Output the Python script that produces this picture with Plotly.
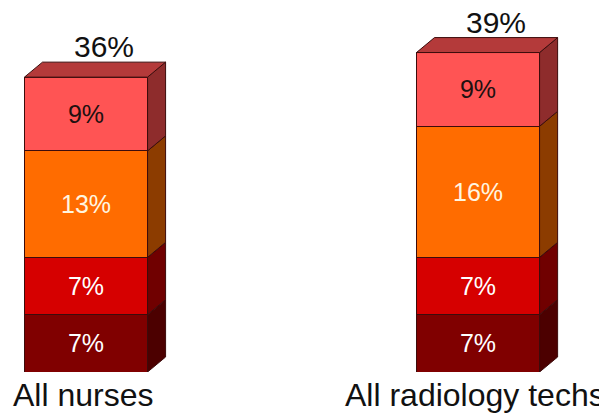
import plotly.graph_objects as go

# ---- data ----
categories = ["All nurses", "All radiology techs"]
seg_dark = [7, 7]      # bottom segment
seg_red = [7, 7]
seg_orange = [13, 16]
seg_salmon = [9, 9]    # top segment
totals = [36, 39]

series = [seg_dark, seg_red, seg_orange, seg_salmon]
names = ["Segment 1", "Segment 2", "Segment 3", "Segment 4"]

# ---- style ----
front_colors = ["#800000", "#d60000", "#ff6c00", "#ff5454"]
side_colors = ["#4c0000", "#700000", "#8c3c00", "#8e2c2c"]
top_color = "#b43a3a"
text_colors = ["#ffffff", "#ffffff", "#fff6e0", "#201010"]
edge = "#3c0c0c"
FONT = "Liberation Sans, Arial, sans-serif"

xpos = [0, 1]
bar_w = 0.314
dx = 0.046      # depth in x (data units)
dy = 1.83       # depth in y (data units)

fig = go.Figure()

# front faces
for s, vals in enumerate(series):
    fig.add_trace(go.Bar(
        x=xpos, y=vals, width=bar_w, name=names[s],
        marker=dict(color=front_colors[s], line=dict(color=edge, width=1)),
        text=[f"{v}%" for v in vals], textposition="inside",
        insidetextanchor="middle", constraintext="none",
        textfont=dict(family=FONT, size=25, color=text_colors[s]),
        hoverinfo="skip", showlegend=False,
    ))

# side faces and top faces (computed from the data)
for i, xc in enumerate(xpos):
    xl = xc - bar_w / 2
    xr = xc + bar_w / 2
    base = 0
    for s, vals in enumerate(series):
        y0 = base
        y1 = base + vals[i]
        fig.add_trace(go.Scatter(
            x=[xr, xr + dx, xr + dx, xr, xr],
            y=[y0, y0 + dy, y1 + dy, y1, y0],
            mode="lines", fill="toself", fillcolor=side_colors[s],
            line=dict(color=edge, width=1), hoverinfo="skip", showlegend=False,
        ))
        base = y1
    top = base
    fig.add_trace(go.Scatter(
        x=[xl, xl + dx, xr + dx, xr, xl],
        y=[top, top + dy, top + dy, top, top],
        mode="lines", fill="toself", fillcolor=top_color,
        line=dict(color=edge, width=1), hoverinfo="skip", showlegend=False,
    ))
    fig.add_annotation(
        x=xc, y=top + dy, text=f"{totals[i]}%", showarrow=False,
        xanchor="center", yanchor="bottom", xshift=18, yshift=-3,
        font=dict(family=FONT, size=30, color="#111111"),
    )
    fig.add_annotation(
        x=xc, y=0, text=categories[i], showarrow=False,
        xanchor="center", yanchor="top", xshift=-3, yshift=-3,
        font=dict(family=FONT, size=32, color="#111111"),
    )

# page body has an 8px margin, so the figure is 8px smaller than the window
fig.update_layout(
    barmode="stack",
    width=599, height=407,
    margin=dict(l=0, r=0, t=0, b=43),
    paper_bgcolor="white", plot_bgcolor="white",
    xaxis=dict(range=[-0.199, 1.329], visible=False, fixedrange=True),
    yaxis=dict(range=[0, 44.44], visible=False, fixedrange=True),
    showlegend=False,
)

fig.write_html("out.html")
